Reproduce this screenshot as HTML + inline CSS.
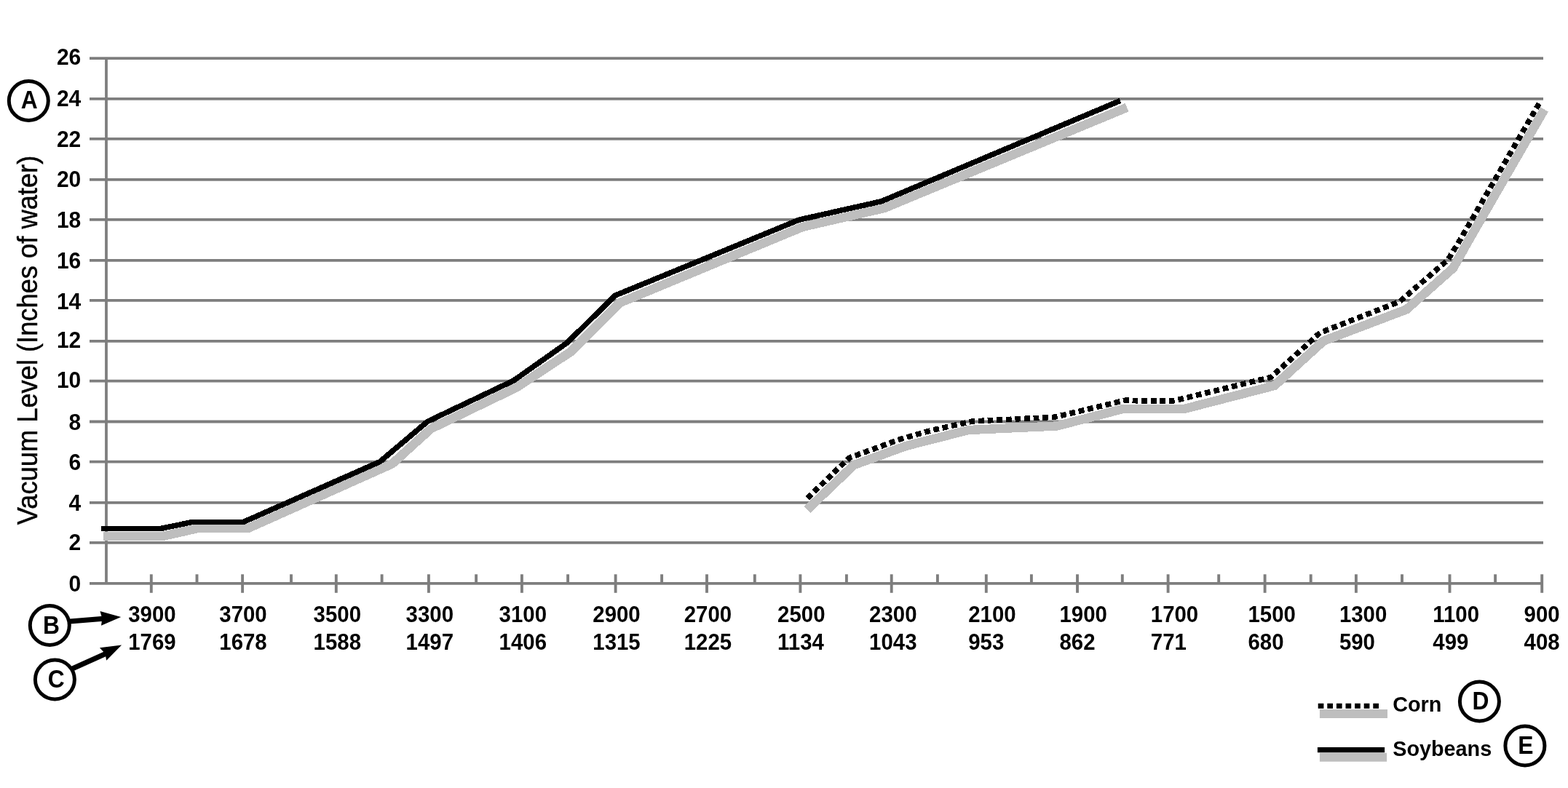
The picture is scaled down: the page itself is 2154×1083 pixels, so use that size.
<!DOCTYPE html>
<html lang="en">
<head>
<meta charset="utf-8">
<title>Vacuum Level Chart</title>
<style>
html,body{margin:0;padding:0;background:#fff;}
body{width:2154px;height:1083px;overflow:hidden;}
svg{display:block;}
text{font-family:"Liberation Sans",sans-serif;fill:#000;}
.yl{font-size:30px;font-weight:bold;text-anchor:end;}
.xl{font-size:29.4px;font-weight:bold;text-anchor:start;}
.cl{font-size:31.8px;font-weight:bold;text-anchor:middle;}
.lg{font-size:28.8px;font-weight:bold;}
</style>
</head>
<body>
<svg width="2154" height="1083" viewBox="0 0 2154 1083">
<rect x="0" y="0" width="2154" height="1083" fill="#fff"/>
<g stroke="#7e7e7e" stroke-width="3.8" fill="none">
<line x1="123" y1="801.9" x2="2120" y2="801.9"/>
<line x1="123" y1="745.8" x2="2120" y2="745.8"/>
<line x1="123" y1="690.8" x2="2120" y2="690.8"/>
<line x1="123" y1="634.7" x2="2120" y2="634.7"/>
<line x1="123" y1="579.5" x2="2120" y2="579.5"/>
<line x1="123" y1="523.7" x2="2120" y2="523.7"/>
<line x1="123" y1="468.8" x2="2120" y2="468.8"/>
<line x1="123" y1="412.9" x2="2120" y2="412.9"/>
<line x1="123" y1="357.8" x2="2120" y2="357.8"/>
<line x1="123" y1="301.8" x2="2120" y2="301.8"/>
<line x1="123" y1="246.8" x2="2120" y2="246.8"/>
<line x1="123" y1="190.9" x2="2120" y2="190.9"/>
<line x1="123" y1="135.8" x2="2120" y2="135.8"/>
<line x1="123" y1="80.1" x2="2120" y2="80.1"/>
<line x1="146" y1="80.1" x2="146" y2="801.9"/>
</g>
<g stroke="#7e7e7e" stroke-width="3.9" fill="none">
<line x1="207.8" y1="789.3" x2="207.8" y2="814.8"/>
<line x1="270.5" y1="789.3" x2="270.5" y2="801.85"/>
<line x1="333.1" y1="789.3" x2="333.1" y2="814.8"/>
<line x1="400.0" y1="789.3" x2="400.0" y2="801.85"/>
<line x1="461.8" y1="789.3" x2="461.8" y2="814.8"/>
<line x1="524.6" y1="789.3" x2="524.6" y2="801.85"/>
<line x1="588.9" y1="789.3" x2="588.9" y2="814.8"/>
<line x1="654.1" y1="789.3" x2="654.1" y2="801.85"/>
<line x1="716.9" y1="789.3" x2="716.9" y2="814.8"/>
<line x1="780.1" y1="789.3" x2="780.1" y2="801.85"/>
<line x1="845.6" y1="789.3" x2="845.6" y2="814.8"/>
<line x1="909.1" y1="789.3" x2="909.1" y2="801.85"/>
<line x1="971.0" y1="789.3" x2="971.0" y2="814.8"/>
<line x1="1036.8" y1="789.3" x2="1036.8" y2="801.85"/>
<line x1="1099.4" y1="789.3" x2="1099.4" y2="814.8"/>
<line x1="1162.9" y1="789.3" x2="1162.9" y2="801.85"/>
<line x1="1224.7" y1="789.3" x2="1224.7" y2="814.8"/>
<line x1="1287.9" y1="789.3" x2="1287.9" y2="801.85"/>
<line x1="1354.8" y1="789.3" x2="1354.8" y2="814.8"/>
<line x1="1416.9" y1="789.3" x2="1416.9" y2="801.85"/>
<line x1="1480.0" y1="789.3" x2="1480.0" y2="814.8"/>
<line x1="1541.8" y1="789.3" x2="1541.8" y2="801.85"/>
<line x1="1604.6" y1="789.3" x2="1604.6" y2="814.8"/>
<line x1="1674.2" y1="789.3" x2="1674.2" y2="801.85"/>
<line x1="1737.6" y1="789.3" x2="1737.6" y2="814.8"/>
<line x1="1800.7" y1="789.3" x2="1800.7" y2="801.85"/>
<line x1="1862.9" y1="789.3" x2="1862.9" y2="814.8"/>
<line x1="1926.0" y1="789.3" x2="1926.0" y2="801.85"/>
<line x1="1991.5" y1="789.3" x2="1991.5" y2="814.8"/>
<line x1="2054.1" y1="789.3" x2="2054.1" y2="801.85"/>
<line x1="2118.2" y1="789.3" x2="2118.2" y2="814.8"/>
</g>
<text class="yl" transform="translate(111.3,813.2) scale(1,1.04)">0</text>
<text class="yl" transform="translate(111.3,756.4) scale(1,1.04)">2</text>
<text class="yl" transform="translate(111.3,702.0) scale(1,1.04)">4</text>
<text class="yl" transform="translate(111.3,645.6) scale(1,1.04)">6</text>
<text class="yl" transform="translate(111.3,590.7) scale(1,1.04)">8</text>
<text class="yl" transform="translate(111.3,533.1) scale(1,1.04)">10</text>
<text class="yl" transform="translate(111.3,478.4) scale(1,1.04)">12</text>
<text class="yl" transform="translate(111.3,424.8) scale(1,1.04)">14</text>
<text class="yl" transform="translate(111.3,369.3) scale(1,1.04)">16</text>
<text class="yl" transform="translate(111.3,313.2) scale(1,1.04)">18</text>
<text class="yl" transform="translate(111.3,257.1) scale(1,1.04)">20</text>
<text class="yl" transform="translate(111.3,201.7) scale(1,1.04)">22</text>
<text class="yl" transform="translate(111.3,146.2) scale(1,1.04)">24</text>
<text class="yl" transform="translate(111.3,89.1) scale(1,1.04)">26</text>
<text transform="translate(50.5,721.3) rotate(-90) scale(1,1.05)" font-size="36.3px" stroke="#000" stroke-width="0.45">Vacuum Level (Inches of water)</text>
<polyline shape-rendering="crispEdges" points="142.0,736.8 224.0,736.8 271.0,726.2 340.5,726.2 538.8,637.4 592.0,589.2 709.5,532.5 783.4,483.9 851.2,416.2 1102.5,311.9 1214.8,286.0 1548.1,147.7" fill="none" stroke="#bebebe" stroke-width="12.4" stroke-linejoin="miter"/>
<polyline shape-rendering="crispEdges" points="1109.0,700.3 1173.2,639.0 1245.0,612.8 1330.4,591.0 1451.8,585.5 1542.3,562.0 1625.5,562.3 1750.8,530.0 1818.3,468.5 1932.1,425.3 1996.3,368.4 2017.0,331.4 2121.5,150.5" fill="none" stroke="#bebebe" stroke-width="12.4" stroke-linejoin="miter"/>
<polyline shape-rendering="crispEdges" points="139.2,726.5 220.6,726.5 264.0,717.5 334.2,717.5 521.8,634.6 587.3,579.3 705.5,523.1 778.5,471.5 845.3,406.0 1098.0,302.0 1210.8,276.7 1539.0,138.3" fill="none" stroke="#000" stroke-width="7.5" stroke-linejoin="miter"/>
<polyline shape-rendering="crispEdges" points="1109.2,684.6 1166.7,629.2 1238.0,603.2 1280.0,591.3 1335.5,579.0 1449.0,573.2 1546.0,550.1 1572.0,551.2 1611.0,551.2 1746.0,518.4 1813.5,457.2 1922.7,414.5 1989.0,357.2 2004.7,331.4 2114.3,142.2" fill="none" stroke="#000" stroke-width="7.6" stroke-dasharray="7.800 4.810" stroke-linejoin="miter"/>
<text class="xl" transform="translate(176.2,855.0) scale(1,1.04)">3900</text>
<text class="xl" transform="translate(176.2,892.7) scale(1,1.04)">1769</text>
<text class="xl" transform="translate(301.3,855.0) scale(1,1.04)">3700</text>
<text class="xl" transform="translate(301.3,892.7) scale(1,1.04)">1678</text>
<text class="xl" transform="translate(430.6,855.0) scale(1,1.04)">3500</text>
<text class="xl" transform="translate(430.6,892.7) scale(1,1.04)">1588</text>
<text class="xl" transform="translate(557.6,855.0) scale(1,1.04)">3300</text>
<text class="xl" transform="translate(557.6,892.7) scale(1,1.04)">1497</text>
<text class="xl" transform="translate(685.6,855.0) scale(1,1.04)">3100</text>
<text class="xl" transform="translate(685.6,892.7) scale(1,1.04)">1406</text>
<text class="xl" transform="translate(814.3,855.0) scale(1,1.04)">2900</text>
<text class="xl" transform="translate(814.3,892.7) scale(1,1.04)">1315</text>
<text class="xl" transform="translate(939.7,855.0) scale(1,1.04)">2700</text>
<text class="xl" transform="translate(939.7,892.7) scale(1,1.04)">1225</text>
<text class="xl" transform="translate(1068.1,855.0) scale(1,1.04)">2500</text>
<text class="xl" transform="translate(1068.1,892.7) scale(1,1.04)">1134</text>
<text class="xl" transform="translate(1194.1,855.0) scale(1,1.04)">2300</text>
<text class="xl" transform="translate(1194.1,892.7) scale(1,1.04)">1043</text>
<text class="xl" transform="translate(1330.2,855.0) scale(1,1.04)">2100</text>
<text class="xl" transform="translate(1330.2,892.7) scale(1,1.04)">953</text>
<text class="xl" transform="translate(1455.5,855.0) scale(1,1.04)">1900</text>
<text class="xl" transform="translate(1455.5,892.7) scale(1,1.04)">862</text>
<text class="xl" transform="translate(1580.8,855.0) scale(1,1.04)">1700</text>
<text class="xl" transform="translate(1580.8,892.7) scale(1,1.04)">771</text>
<text class="xl" transform="translate(1714.5,855.0) scale(1,1.04)">1500</text>
<text class="xl" transform="translate(1714.5,892.7) scale(1,1.04)">680</text>
<text class="xl" transform="translate(1839.9,855.0) scale(1,1.04)">1300</text>
<text class="xl" transform="translate(1839.9,892.7) scale(1,1.04)">590</text>
<text class="xl" transform="translate(1968.3,855.0) scale(1,1.04)">1100</text>
<text class="xl" transform="translate(1968.3,892.7) scale(1,1.04)">499</text>
<text class="xl" transform="translate(2093.6,855.0) scale(1,1.04)">900</text>
<text class="xl" transform="translate(2093.6,892.7) scale(1,1.04)">408</text>
<line x1="90" y1="854.5" x2="142" y2="850.2" stroke="#000" stroke-width="7"/>
<polygon points="166.2,848.1 137.5,840.1 140.3,850 139,859.8" fill="#000"/>
<line x1="95" y1="921" x2="145" y2="898.5" stroke="#000" stroke-width="7"/>
<polygon points="167.1,886.4 137,890.3 144.5,898.5 146.2,907.8" fill="#000"/>
<circle cx="39.3" cy="138.5" r="27" fill="#fff" stroke="#000" stroke-width="5"/>
<text class="cl" transform="translate(40.1,149.0) scale(1,1.085)">A</text>
<circle cx="68.3" cy="859.5" r="27" fill="#fff" stroke="#000" stroke-width="5"/>
<text class="cl" transform="translate(70.4,871.0) scale(1,1.085)">B</text>
<circle cx="75.4" cy="934.0" r="27" fill="#fff" stroke="#000" stroke-width="5"/>
<text class="cl" transform="translate(77.1,944.8) scale(1,1.085)">C</text>
<circle cx="2032.4" cy="964.0" r="27" fill="#fff" stroke="#000" stroke-width="5"/>
<text class="cl" transform="translate(2034.0,974.8) scale(1,1.085)">D</text>
<circle cx="2094.9" cy="1025.0" r="27" fill="#fff" stroke="#000" stroke-width="5"/>
<text class="cl" transform="translate(2095.9,1035.8) scale(1,1.085)">E</text>
<line x1="1812.9" y1="980.9" x2="1906" y2="980.9" stroke="#bebebe" stroke-width="12"/>
<line x1="1810.7" y1="970.3" x2="1895" y2="970.3" stroke="#000" stroke-width="7.1" stroke-dasharray="7.7 4.9"/>
<text class="lg" transform="translate(1913.2,977.7) scale(1,1.05)">Corn</text>
<line x1="1812.9" y1="1040.8" x2="1905.1" y2="1040.8" stroke="#bebebe" stroke-width="12"/>
<line x1="1809.9" y1="1030.6" x2="1902.1" y2="1030.6" stroke="#000" stroke-width="7.2"/>
<text class="lg" transform="translate(1913.2,1038.7) scale(1,1.05)">Soybeans</text>
</svg>
</body>
</html>
